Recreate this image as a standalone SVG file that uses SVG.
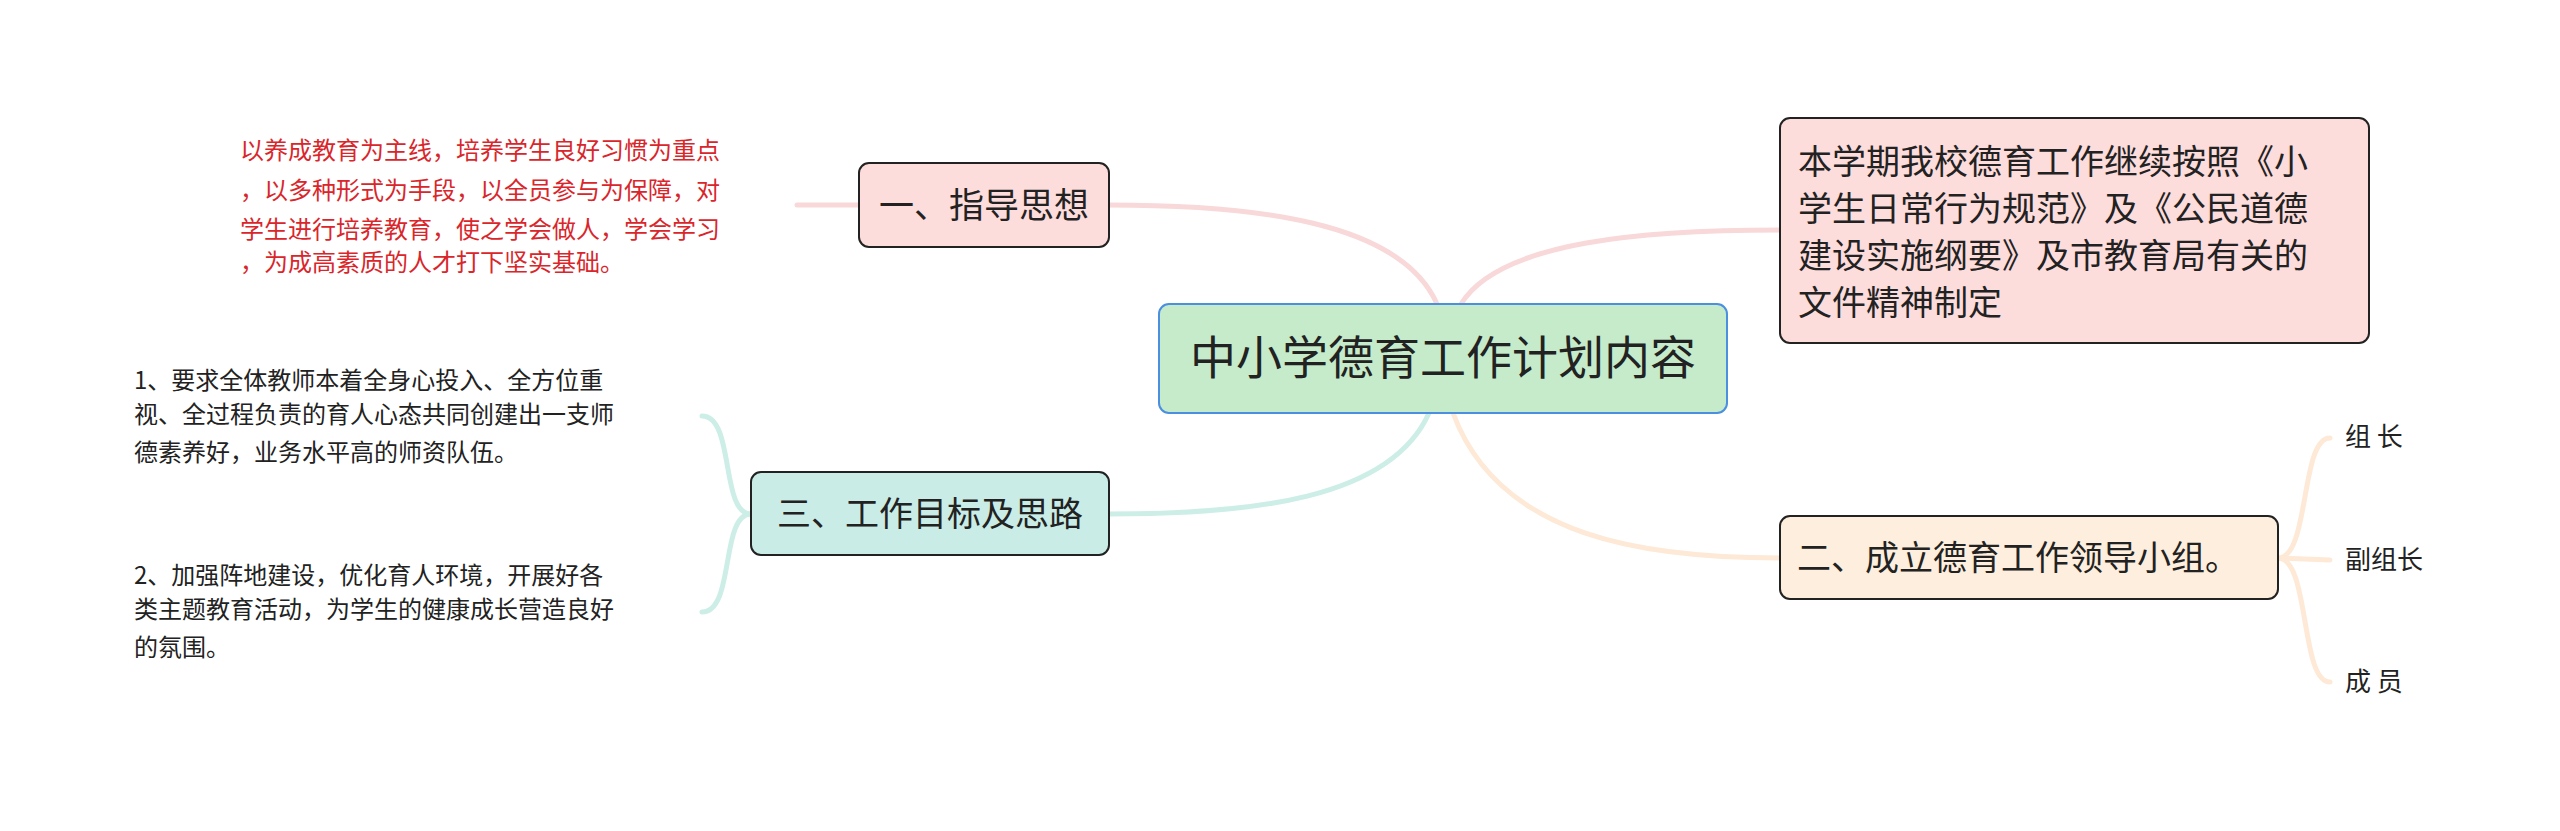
<svg xmlns="http://www.w3.org/2000/svg" width="2560" height="831" viewBox="0 0 2560 831">
<style>
text{font-family:"Noto Sans CJK SC","Noto Sans",sans-serif;fill:#222}
.c{fill:none;stroke-width:5;stroke-linecap:round}
.n{stroke:#222;stroke-width:2}
.s{font-size:24px}
</style>
<rect width="2560" height="831" fill="#fff"/>
<g id="connectors">
<path class="c" stroke="#f8d8d8" d="M1437,304 C1400,220 1250,205 1109,205"/>
<path class="c" stroke="#f8d8d8" d="M1461,304 C1500,240 1650,230 1780,230"/>
<path class="c" stroke="#cdeee6" d="M1429,413 C1390,500 1250,514 1109,514"/>
<path class="c" stroke="#fde9d6" d="M1453,413 C1500,540 1650,558 1780,558"/>
<path class="c" stroke="#f8d8d8" d="M797,205 L859,205"/>
<path class="c" stroke="#cdeee6" stroke-width="3" d="M751,514 C720,514 735,416 702,416"/>
<path class="c" stroke="#cdeee6" stroke-width="3" d="M751,514 C720,514 735,612 702,612"/>
<path class="c" stroke="#fde9d6" stroke-width="3" d="M2278,558 C2310,558 2300,438 2330,438"/>
<path class="c" stroke="#fde9d6" stroke-width="3" d="M2278,558 L2330,560"/>
<path class="c" stroke="#fde9d6" stroke-width="3" d="M2278,558 C2310,558 2300,682 2330,682"/>
</g>
<g id="center"><rect x="1159" y="304" width="568" height="109" rx="10" fill="#c5ebcb" stroke="#4a8fe0" stroke-width="2"/><text x="1443" y="374" font-size="46" text-anchor="middle">中小学德育工作计划内容</text></g>
<g id="n1"><rect class="n" x="859" y="163" width="250" height="84" rx="10" fill="#fddcdc"/><text x="984" y="218" font-size="35" text-anchor="middle">一、指导思想</text></g>
<g id="n1t" style="font-size:24px"><text x="240" y="159" style="fill:#d9262b">以养成教育为主线，培养学生良好习惯为重点</text><text x="240" y="199" style="fill:#d9262b">，以多种形式为手段，以全员参与为保障，对</text><text x="240" y="238" style="fill:#d9262b">学生进行培养教育，使之学会做人，学会学习</text><text x="240" y="271" style="fill:#d9262b">，为成高素质的人才打下坚实基础。</text></g>
<g id="nr"><rect class="n" x="1780" y="118" width="589" height="225" rx="10" fill="#fddcdc"/><text font-size="34"><tspan x="1798" y="174">本学期我校德育工作继续按照《小</tspan><tspan x="1798" y="221">学生日常行为规范》及《公民道德</tspan><tspan x="1798" y="268">建设实施纲要》及市教育局有关的</tspan><tspan x="1798" y="315">文件精神制定</tspan></text></g>
<g id="n2"><rect class="n" x="1780" y="516" width="498" height="83" rx="10" fill="#fdeedd"/><text x="1797" y="570" font-size="34">二、成立德育工作领导小组。</text></g>
<g id="n3"><rect class="n" x="751" y="472" width="358" height="83" rx="10" fill="#c9ede6"/><text x="930" y="526" font-size="34" text-anchor="middle">三、工作目标及思路</text></g>
<g id="t1"><text class="s"><tspan x="134" y="389">1、要求全体教师本着全身心投入、全方位重</tspan><tspan x="134" y="423">视、全过程负责的育人心态共同创建出一支师</tspan><tspan x="134" y="461">德素养好，业务水平高的师资队伍。</tspan></text></g>
<g id="t2"><text class="s"><tspan x="134" y="584">2、加强阵地建设，优化育人环境，开展好各</tspan><tspan x="134" y="618">类主题教育活动，为学生的健康成长营造良好</tspan><tspan x="134" y="656">的氛围。</tspan></text></g>
<g id="l1"><text x="2345" y="446" font-size="26">组 长</text></g>
<g id="l2"><text x="2345" y="569" font-size="26">副组长</text></g>
<g id="l3"><text x="2345" y="691" font-size="26">成 员</text></g>
</svg>
